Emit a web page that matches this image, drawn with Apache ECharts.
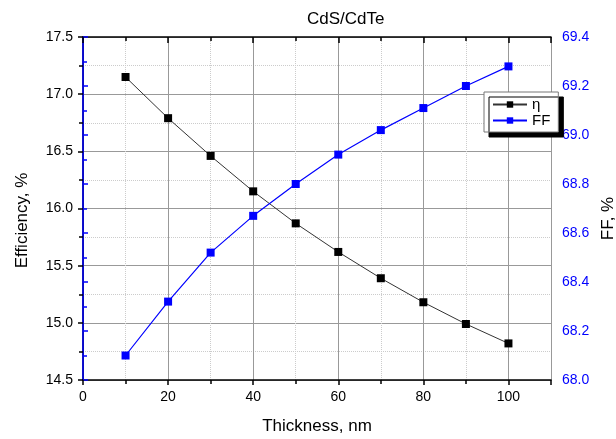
<!DOCTYPE html>
<html>
<head>
<meta charset="utf-8">
<script src="https://cdn.jsdelivr.net/npm/echarts@6/dist/echarts.min.js"></script>
<style>
  html, body { margin: 0; padding: 0; background: #fff; }
  #chart { width: 616px; height: 439px; }
</style>
</head>
<body>
<div id="chart"></div>
<script>
// thickness, nm
var thickness = [10, 20, 30, 40, 50, 60, 70, 80, 90, 100];
// efficiency eta, %
var eta = [17.15, 16.79, 16.46, 16.15, 15.87, 15.62, 15.39, 15.18, 14.99, 14.82];
// fill factor, %
var ff = [68.10, 68.32, 68.52, 68.67, 68.80, 68.92, 69.02, 69.11, 69.20, 69.28];

var font = 'Liberation Sans, Arial, sans-serif';

function pairs(xs, ys) {
  return xs.map(function (x, i) { return [x, ys[i]]; });
}

var myChart = echarts.init(document.getElementById('chart'));
var option = {
  backgroundColor: '#fff',
  animation: false,
  title: {
    text: 'CdS/CdTe',
    left: 302,
    top: 6,
    textStyle: { fontFamily: font, fontSize: 17, fontWeight: 'normal', color: '#000' }
  },
  legend: {
    orient: 'vertical',
    left: 484,
    top: 92,
    padding: [5, 8, 4, 8],
    itemGap: 1,
    itemWidth: 34,
    itemHeight: 8,
    backgroundColor: '#fff',
    borderColor: '#777',
    borderWidth: 1,
    shadowColor: '#000',
    shadowBlur: 0,
    shadowOffsetX: 5,
    shadowOffsetY: 5,
    textStyle: { fontFamily: font, fontSize: 15, color: '#000' },
    data: ['η', 'FF']
  },
  grid: { left: 83, right: 65, top: 37, bottom: 59, outerBoundsMode: 'none', containLabel: false },
  xAxis: [{
    type: 'value',
    min: 0,
    max: 110,
    interval: 20,
    name: 'Thickness, nm',
    nameLocation: 'middle',
    nameGap: 38,
    nameTextStyle: { fontFamily: font, fontSize: 17, color: '#000' },
    axisLine: { lineStyle: { color: '#000', width: 1.5 } },
    axisTick: { inside: false, length: 5, lineStyle: { color: '#000', width: 1.5 } },
    minorTick: { show: true, splitNumber: 2, length: 4, lineStyle: { color: '#000', width: 1.5 } },
    axisLabel: { fontFamily: font, fontSize: 14, color: '#000', margin: 10, showMaxLabel: false },
    splitLine: { show: true, lineStyle: { color: '#999', width: 1 } },
    minorSplitLine: { show: true, lineStyle: { color: '#ccc', type: 'dotted' } }
  }, {
    type: 'value',
    position: 'top',
    min: 0,
    max: 110,
    interval: 20,
    axisLine: { lineStyle: { color: '#000', width: 1.5 } },
    axisTick: { inside: true, length: 6, lineStyle: { color: '#000', width: 1.5 } },
    minorTick: { show: true, splitNumber: 2, length: 4, lineStyle: { color: '#000', width: 1.5 } },
    axisLabel: { show: false },
    splitLine: { show: false }
  }],
  yAxis: [{
    type: 'value',
    position: 'left',
    min: 14.5,
    max: 17.5,
    interval: 0.5,
    name: 'Efficiency, %',
    nameLocation: 'middle',
    nameGap: 52,
    nameTextStyle: { fontFamily: font, fontSize: 17, color: '#000', padding: [0, 24, 0, 0] },
    axisLine: { show: true, lineStyle: { color: '#000', width: 1.5 } },
    axisTick: { show: true, inside: false, length: 5, lineStyle: { color: '#000', width: 1.5 } },
    minorTick: { show: true, splitNumber: 2, length: 4, lineStyle: { color: '#000', width: 1.5 } },
    axisLabel: {
      fontFamily: font, fontSize: 14, color: '#000', margin: 10,
      formatter: function (v) { return v.toFixed(1); }
    },
    splitLine: { show: true, lineStyle: { color: '#999', width: 1 } },
    minorSplitLine: { show: true, lineStyle: { color: '#ccc', type: 'dotted' } }
  }, {
    type: 'value',
    position: 'right',
    min: 68.0,
    max: 69.4,
    interval: 0.2,
    name: 'FF, %',
    nameLocation: 'middle',
    nameGap: 48,
    nameTextStyle: { fontFamily: font, fontSize: 17, color: '#000', padding: [0, 20, 0, 0] },
    axisLine: { show: true, lineStyle: { color: '#0000ff', width: 1.5 } },
    axisTick: { show: true, inside: false, length: 5, lineStyle: { color: '#0000ff', width: 1.5 } },
    minorTick: { show: true, splitNumber: 2, length: 4, lineStyle: { color: '#0000ff', width: 1.5 } },
    axisLabel: {
      fontFamily: font, fontSize: 14, color: '#0000ff', margin: 11,
      formatter: function (v) { return v.toFixed(1); }
    },
    splitLine: { show: false }
  }],
  series: [{
    name: 'η',
    type: 'line',
    xAxisIndex: 0,
    yAxisIndex: 0,
    data: pairs(thickness, eta),
    symbol: 'rect',
    symbolSize: 8,
    itemStyle: { color: '#000' },
    lineStyle: { color: '#333', width: 1 }
  }, {
    name: 'FF',
    type: 'line',
    xAxisIndex: 0,
    yAxisIndex: 1,
    data: pairs(thickness, ff),
    symbol: 'rect',
    symbolSize: 8,
    itemStyle: { color: '#0000ff' },
    lineStyle: { color: '#0000ff', width: 1.2 }
  }]
};
myChart.setOption(option);
</script>
</body>
</html>
